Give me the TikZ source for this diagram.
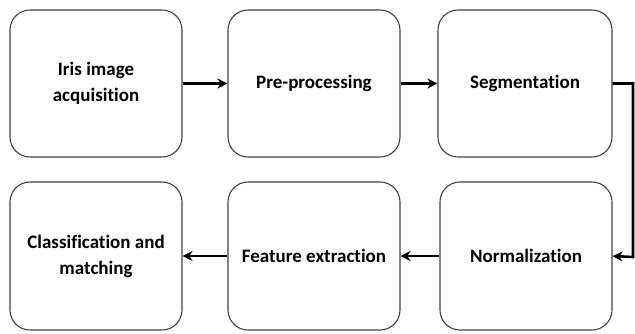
\documentclass[tikz,border=0pt]{standalone}
\usepackage{fontspec}
\setmainfont[Ligatures={NoCommon,NoRequired,NoContextual}]{Carlito}
\usetikzlibrary{arrows.meta}
\begin{document}
\begin{tikzpicture}[x=1pt,y=-1pt,
  stage/.style={draw=black!75, line width=1.1pt, rounded corners=20pt, align=center,
    font=\fontsize{19}{26}\selectfont\bfseries, text=black, inner sep=0pt},
  flow/.style={line width=2.6pt, draw=black, -{Stealth[length=10pt,width=10pt]}}]
\useasboundingbox (0,0) rectangle (635,333);
\node[stage, minimum width=172pt, minimum height=147pt] (a) at (96,83.5) {Iris image\\acquisition};
\node[stage, minimum width=172pt, minimum height=147pt] (b) at (314,83.5) {Pre-processing};
\node[stage, minimum width=174pt, minimum height=147pt] (c) at (525,83.5) {Segmentation};
\node[stage, minimum width=172pt, minimum height=148pt] (d) at (96,256) {Classification and\\matching};
\node[stage, minimum width=172pt, minimum height=148pt] (e) at (314,256) {Feature extraction};
\node[stage, minimum width=172pt, minimum height=148pt] (f) at (526,256) {Normalization};
\coordinate (t1) at (633,83.5);
\coordinate (t2) at (633,257);
\draw[flow] (a.east) -- (b.west);
\draw[flow] (b.east) -- (c.west);
\draw[flow, rounded corners=0pt] (c.east) -- (t1) -- (t2) -- (f.east);
\draw[flow] (f.west) -- (e.east);
\draw[flow] (e.west) -- (d.east);
\end{tikzpicture}
\end{document}
